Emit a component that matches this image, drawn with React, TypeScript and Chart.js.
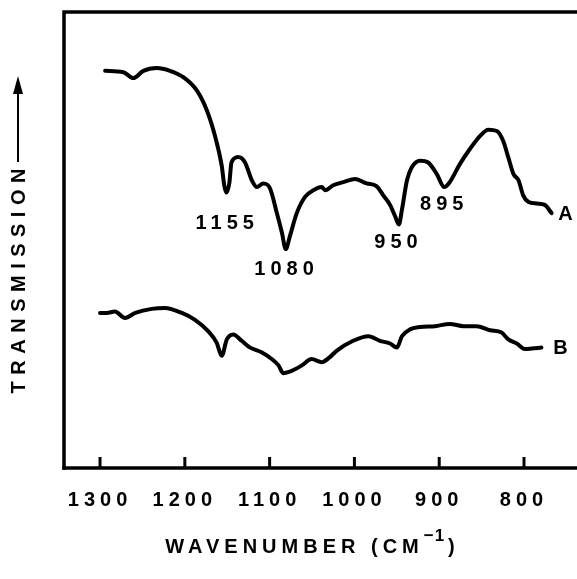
import React, { useEffect, useRef } from 'react';
import { Chart, registerables } from 'chart.js';

Chart.register(...registerables);

// ---- data ----
const WAVENUMBER_A = [
  1294, 1272.5, 1260.7, 1248.9, 1233.1, 1217.5, 1201.8, 1185.9, 1174.2, 1164.4,
  1156.5, 1153.5, 1151, 1147.5, 1145, 1137, 1129, 1121, 1115, 1107.5,
  1099.5, 1091.5, 1085.5, 1081, 1076, 1068, 1058, 1048.5, 1038.5, 1034.5,
  1025, 1013, 999, 989.5, 985.5, 974, 966, 958, 952, 947.5,
  944, 938, 932.5, 922.5, 913, 903, 894, 887.5, 875.5, 864,
  852, 842, 832, 824.5, 818.5, 812.5, 806.5, 801, 795, 785,
  775.5, 767.5,
];
const TRANSMISSION_A = [
  87.1, 86.8, 85.5, 87.1, 87.7, 87.1, 85.7, 82.8, 78.5, 72.8,
  66.3, 62, 60.4, 62.5, 67.0, 68.2, 67.0, 63.1, 61.6, 62.4,
  61.3, 55.9, 51.6, 48.0, 50.9, 55.9, 59.5, 60.9, 61.6, 60.9,
  62.0, 62.7, 63.4, 62.7, 62.4, 61.8, 59.8, 57.7, 55.2, 53.4,
  56.6, 63.1, 65.9, 67.4, 67.0, 64.5, 61.6, 62.7, 66.7, 69.9,
  72.8, 74.2, 73.9, 71.7, 68.1, 64.5, 63.1, 59.8, 58.4, 58.0,
  57.7, 55.9,
];
const WAVENUMBER_B = [
  1300, 1292, 1282.5, 1270.5, 1258.5, 1239, 1223.5, 1203.5, 1188, 1172.5,
  1162.5, 1156.5, 1150.5, 1143, 1133, 1123, 1109.5, 1097.5, 1089.5, 1084,
  1074, 1062, 1050.5, 1038.5, 1029, 1021, 1001.5, 983.5, 970, 958,
  950, 944, 934.5, 922.5, 905, 887.5, 871.5, 856, 840, 826.5,
  818.5, 808.5, 799, 791, 779.5,
];
const TRANSMISSION_B = [
  34.0, 34.0, 34.3, 32.9, 34.0, 34.9, 35.1, 34.0, 32.5, 30.0,
  27.5, 24.6, 28.2, 29.3, 27.9, 26.4, 25.4, 23.9, 22.5, 20.8,
  21.3, 22.5, 23.9, 23.2, 24.3, 25.7, 27.9, 28.9, 27.9, 27.3,
  26.4, 28.9, 30.4, 30.9, 31.1, 31.6, 31.1, 31.1, 30.2, 29.7,
  28.2, 27.3, 26.1, 26.2, 26.4,
];
const X_TICKS = [1300, 1200, 1100, 1000, 900, 800];
const X_MIN = 737.5;
const X_MAX = 1342.5;
const Y_MIN = 0;
const Y_MAX = 100;

const PEAK_LABELS = ['1155', '1080', '950', '895'];
const PEAK_LABEL_X = [1153, 1083, 951, 897];
const PEAK_LABEL_Y = [53.7, 43.5, 49.4, 57.7];
const CURVE_NAMES = ['A', 'B'];
const CURVE_NAME_X = [751, 757];
const CURVE_NAME_Y = [55.6, 26.3];

const Y_TITLE = 'TRANSMISSION';
const X_TITLE = 'WAVENUMBER (CM';
const X_TITLE_SUP = '\u22121';
const X_TITLE_END = ')';

const FONT = '"Liberation Sans", Arial, Helvetica, sans-serif';
const INK = '#000';

function spacedText(ctx: CanvasRenderingContext2D, text: string, cx: number, cy: number, spacing: number) {
  (ctx as any).letterSpacing = spacing + 'px';
  const w = ctx.measureText(text).width - spacing;
  ctx.textAlign = 'left';
  ctx.fillText(text, cx - w / 2, cy);
  return w;
}

const decorPlugin = {
  id: 'decor',
  beforeUpdate(chart: any) {
    (chart.ctx as any).letterSpacing = '5px';
  },
  beforeDraw(chart: any) {
    (chart.ctx as any).letterSpacing = '5px';
  },
  afterDraw(chart: any) {
    const { ctx, chartArea: ca, scales } = chart;
    const x = scales.x;
    const y = scales.y;
    ctx.save();
    ctx.strokeStyle = INK;
    ctx.fillStyle = INK;
    // frame: left and top, bottom axis
    ctx.lineWidth = 3.5;
    ctx.lineCap = 'square';
    ctx.beginPath();
    ctx.moveTo(ca.left, ca.bottom);
    ctx.lineTo(ca.left, ca.top);
    ctx.lineTo(ca.right + 4, ca.top);
    ctx.stroke();
    ctx.beginPath();
    ctx.moveTo(ca.left, ca.bottom);
    ctx.lineTo(ca.right + 4, ca.bottom);
    ctx.stroke();
    // inward tick marks
    ctx.lineWidth = 3;
    ctx.lineCap = 'butt';
    for (const v of X_TICKS) {
      const px = x.getPixelForValue(v);
      ctx.beginPath();
      ctx.moveTo(px, ca.bottom);
      ctx.lineTo(px, ca.bottom - 11);
      ctx.stroke();
    }
    // peak labels
    ctx.font = `bold 20px ${FONT}`;
    ctx.textBaseline = 'middle';
    PEAK_LABELS.forEach((t, i) => {
      spacedText(ctx, t, x.getPixelForValue(PEAK_LABEL_X[i]), y.getPixelForValue(PEAK_LABEL_Y[i]), 5);
    });
    CURVE_NAMES.forEach((t, i) => {
      spacedText(ctx, t, x.getPixelForValue(CURVE_NAME_X[i]), y.getPixelForValue(CURVE_NAME_Y[i]), 0);
    });
    // y title, rotated, with arrow
    ctx.save();
    ctx.translate(19, 281);
    ctx.rotate(-Math.PI / 2);
    spacedText(ctx, Y_TITLE, 0, 0, 6.5);
    ctx.restore();
    ctx.lineWidth = 2;
    ctx.beginPath();
    ctx.moveTo(18, 162);
    ctx.lineTo(18, 88);
    ctx.stroke();
    ctx.beginPath();
    ctx.moveTo(18, 76);
    ctx.lineTo(13, 94);
    ctx.lineTo(23, 94);
    ctx.closePath();
    ctx.fill();
    // x title with superscript
    ctx.font = `bold 20px ${FONT}`;
    (ctx as any).letterSpacing = '5px';
    const w1 = ctx.measureText(X_TITLE).width;
    ctx.font = `bold 17px ${FONT}`;
    (ctx as any).letterSpacing = '1px';
    const w2 = ctx.measureText(X_TITLE_SUP).width + 3;
    ctx.font = `bold 20px ${FONT}`;
    (ctx as any).letterSpacing = '0px';
    const w3 = ctx.measureText(X_TITLE_END).width;
    const total = w1 + w2 + w3;
    const cx = 310;
    const ty = 547;
    let sx = cx - total / 2;
    ctx.textAlign = 'left';
    ctx.font = `bold 20px ${FONT}`;
    (ctx as any).letterSpacing = '5px';
    ctx.fillText(X_TITLE, sx, ty);
    sx += w1;
    ctx.font = `bold 17px ${FONT}`;
    (ctx as any).letterSpacing = '1px';
    ctx.fillText(X_TITLE_SUP, sx, ty - 11);
    sx += w2;
    ctx.font = `bold 20px ${FONT}`;
    (ctx as any).letterSpacing = '0px';
    ctx.fillText(X_TITLE_END, sx, ty);
    ctx.restore();
  },
};

export default function App() {
  const ref = useRef<HTMLCanvasElement | null>(null);
  useEffect(() => {
    document.body.style.margin = '0';
    const canvas = ref.current!;
    const chart = new Chart(canvas, {
      type: 'line',
      data: {
        datasets: [
          {
            label: 'A',
            data: WAVENUMBER_A.map((v, i) => ({ x: v, y: TRANSMISSION_A[i] })),
            borderColor: INK,
            borderWidth: 4,
            pointRadius: 0,
            cubicInterpolationMode: 'monotone',
            borderCapStyle: 'round',
            borderJoinStyle: 'round',
            fill: false,
          },
          {
            label: 'B',
            data: WAVENUMBER_B.map((v, i) => ({ x: v, y: TRANSMISSION_B[i] })),
            borderColor: INK,
            borderWidth: 4,
            pointRadius: 0,
            cubicInterpolationMode: 'monotone',
            borderCapStyle: 'round',
            borderJoinStyle: 'round',
            fill: false,
          },
        ],
      },
      options: {
        animation: false,
        responsive: false,
        devicePixelRatio: 1,
        layout: { padding: { left: 64, top: 12, right: 0, bottom: 55 } },
        plugins: { legend: { display: false }, tooltip: { enabled: false }, title: { display: false } },
        scales: {
          x: {
            type: 'linear',
            reverse: true,
            min: X_MIN,
            max: X_MAX,
            afterBuildTicks: (scale: any) => {
              scale.ticks = X_TICKS.slice().reverse().map((v) => ({ value: v }));
            },
            grid: { display: false },
            border: { display: false },
            ticks: {
              color: INK,
              font: { family: FONT, size: 20, weight: 'bold' },
              padding: 12,
              maxRotation: 0,
              autoSkip: false,
              callback: (v: any) => String(v),
            },
          },
          y: {
            display: false,
            min: Y_MIN,
            max: Y_MAX,
          },
        },
      },
      plugins: [decorPlugin],
    } as any);
    return () => chart.destroy();
  }, []);
  return (
    <div style={{ width: 577, height: 579 }}>
      <canvas ref={ref} width={577} height={579} style={{ display: 'block' }} />
    </div>
  );
}
